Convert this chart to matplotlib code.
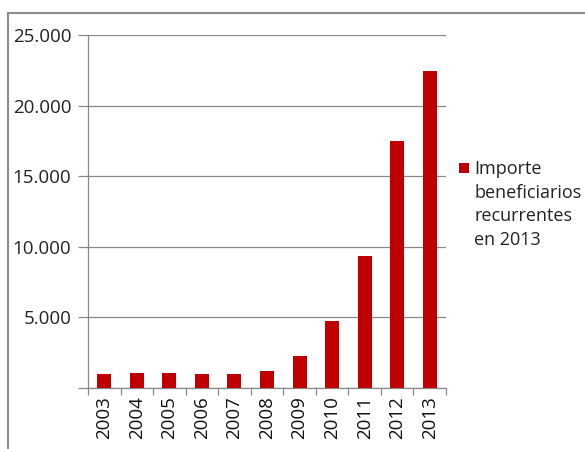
import matplotlib
matplotlib.use("Agg")
import matplotlib.pyplot as plt
from matplotlib.patches import Rectangle
from matplotlib.ticker import FuncFormatter, FixedLocator

years = ["2003", "2004", "2005", "2006", "2007", "2008", "2009", "2010", "2011", "2012", "2013"]
values = [990, 1060, 1060, 990, 990, 1200, 2300, 4750, 9350, 17500, 22450]
series_name = "Importe\nbeneficiarios\nrecurrentes\nen 2013"
yticks = [5000, 10000, 15000, 20000, 25000]

plt.rcParams['font.family'] = ['Open Sans', 'DejaVu Sans']

W, H = 585, 449
fig = plt.figure(figsize=(W / 100, H / 100), dpi=100)
ax = fig.add_axes([88 / W, 1 - 388 / H, (446 - 88) / W, (388 - 35) / H])

x = list(range(len(years)))
ax.bar(x, values, width=0.43, color="#C00000", zorder=3)
ax.set_xlim(-0.5, len(years) - 0.5)
ax.set_ylim(0, 25000)

ax.yaxis.set_major_locator(FixedLocator([0] + yticks))
ax.yaxis.set_major_formatter(FuncFormatter(lambda v, p: "" if v == 0 else f"{int(v):,}".replace(",", ".")))
ax.grid(axis="y", color="#888888", linewidth=0.9, zorder=0)
ax.tick_params(axis="y", length=7, color="#888888", width=0.9, labelsize=13.5, pad=5, labelcolor="#222222")

ax.set_xticks([i - 0.5 for i in range(len(years) + 1)])
ax.set_xticklabels([])
ax.tick_params(axis="x", length=5, color="#888888", width=0.9)
ax.set_xticks(x, minor=True)
ax.set_xticklabels(years, minor=True, rotation=90, fontsize=13.5, color="#111111")
ax.tick_params(axis="x", which="minor", length=0, pad=6)

for s in ["top", "right"]:
    ax.spines[s].set_visible(False)
for s in ["left", "bottom"]:
    ax.spines[s].set_color("#888888")
    ax.spines[s].set_linewidth(0.9)

# legend
fig.patches.append(Rectangle((459 / W, 1 - 173 / H), 10 / W, 10 / H, transform=fig.transFigure,
                             facecolor="#C00000", edgecolor="none"))
fig.text(474 / W, 1 - 160 / H, series_name, fontsize=13, va="top", ha="left",
         color="#222222", linespacing=1.4)

# chart border
fig.patches.append(Rectangle((8 / W, -0.1), 1.2, 1.1 - 13 / H, transform=fig.transFigure,
                             facecolor="none", edgecolor="#8c8c8c", linewidth=1.5))

fig.savefig("out.png", dpi=100)
